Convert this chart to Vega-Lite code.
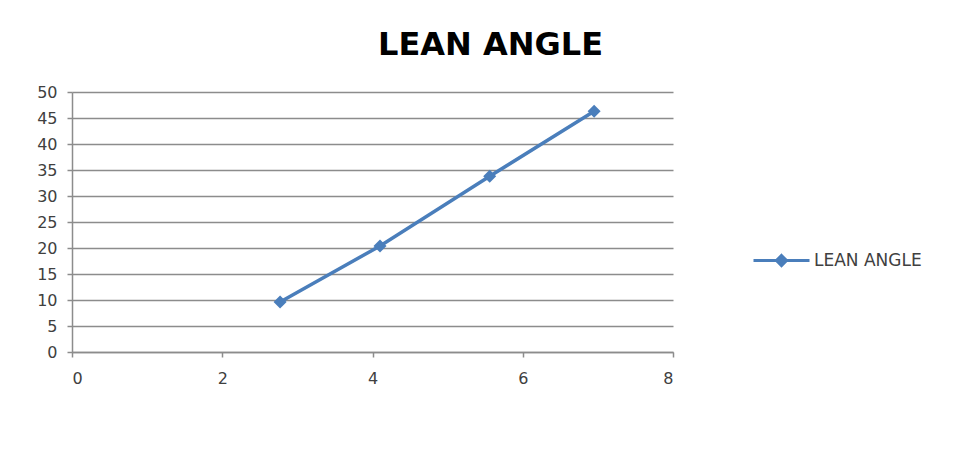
{
  "$schema": "https://vega.github.io/schema/vega-lite/v6.json",
  "autosize": "none",
  "width": 601,
  "height": 260,
  "padding": {"left": 72, "top": 92, "right": 292, "bottom": 98},
  "background": "white",
  "title": {
    "text": "LEAN ANGLE",
    "anchor": "middle",
    "dx": 118,
    "offset": 22,
    "font": "DejaVu Sans",
    "fontSize": 32,
    "fontWeight": "bold",
    "color": "#000000"
  },
  "config": {
    "view": {"stroke": null},
    "axis": {
      "labelFont": "DejaVu Sans",
      "labelFontSize": 16,
      "labelColor": "#404040",
      "domainColor": "#8c8c8c",
      "domainWidth": 1.5,
      "tickColor": "#8c8c8c",
      "tickWidth": 1.5,
      "tickSize": 5,
      "title": null
    }
  },
  "data": {
    "values": [
      {"x": 2.77, "y": 9.6, "series": "LEAN ANGLE"},
      {"x": 4.1, "y": 20.4, "series": "LEAN ANGLE"},
      {"x": 5.56, "y": 33.8, "series": "LEAN ANGLE"},
      {"x": 6.95, "y": 46.3, "series": "LEAN ANGLE"}
    ]
  },
  "encoding": {
    "x": {
      "field": "x",
      "type": "quantitative",
      "scale": {"domain": [0, 8], "nice": false, "zero": false},
      "axis": {"values": [0, 2, 4, 6, 8], "grid": false, "labelPadding": 13, "title": null}
    },
    "y": {
      "field": "y",
      "type": "quantitative",
      "scale": {"domain": [0, 50], "nice": false},
      "axis": {
        "values": [0, 5, 10, 15, 20, 25, 30, 35, 40, 45, 50],
        "grid": true,
        "gridColor": "#8c8c8c",
        "gridWidth": 1.5,
        "labelPadding": 10,
        "title": null
      }
    }
  },
  "layer": [
    {
      "mark": {"type": "line", "strokeWidth": 3.5},
      "encoding": {
        "color": {
          "field": "series",
          "type": "nominal",
          "scale": {"range": ["#4a7ebb"]},
          "legend": {
            "title": null,
            "orient": "none",
            "legendX": 680,
            "legendY": 139,
            "padding": 0,
            "symbolType": "M-1,0H1M0,-0.18L0.18,0L0,0.18L-0.18,0Z",
            "symbolSize": 3136,
            "symbolStrokeWidth": 3,
            "labelFont": "DejaVu Sans",
            "labelFontSize": 17,
            "labelColor": "#404040",
            "labelOffset": 3,
            "encode": {"symbols": {"update": {"fill": {"value": "#4a7ebb"}, "stroke": {"value": "#4a7ebb"}}}}
          }
        }
      }
    },
    {
      "mark": {"type": "point", "shape": "diamond", "filled": true, "size": 170, "opacity": 1, "color": "#4a7ebb"}
    }
  ]
}
